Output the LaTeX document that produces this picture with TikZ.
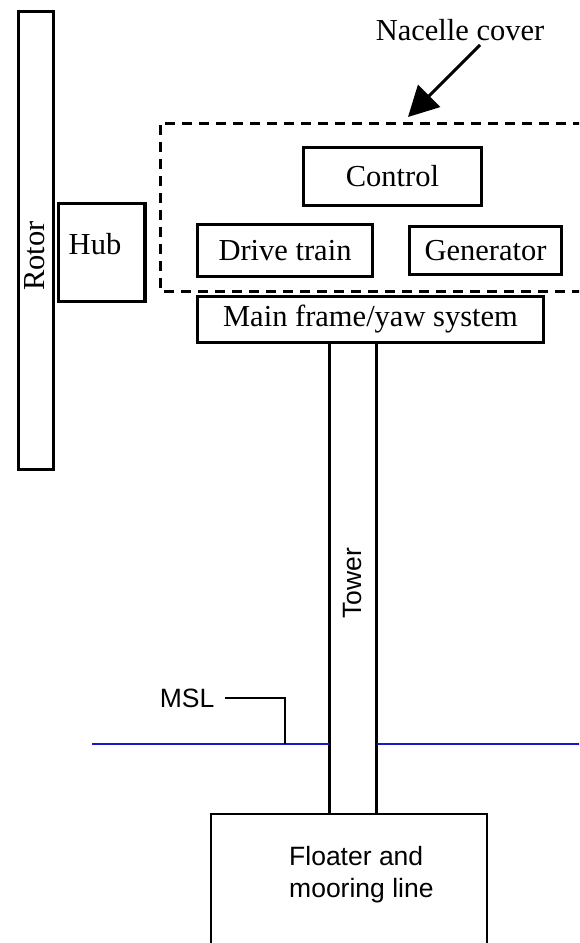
\documentclass[tikz,border=0pt]{standalone}
\usepackage{fontspec}
\setmainfont{Liberation Serif}
\newfontfamily\arialf{Liberation Sans}
\usetikzlibrary{arrows.meta}
\definecolor{seablue}{RGB}{25,25,200}
\begin{document}
\begin{tikzpicture}[x=1pt,y=-1pt,
  serif/.style={font=\fontsize{30.5}{36}\selectfont},
  sans/.style={font=\arialf\fontsize{26.5}{32.5}\selectfont},
  box/.style={draw, line width=3.2pt, inner sep=0pt, serif},
  txt/.style={inner sep=0pt},
  cover/.style={line width=3pt, dash pattern=on 10pt off 7pt},
  thinline/.style={line width=2.7pt},
  sea/.style={draw=seablue, line width=2.5pt},
  lead/.style={line width=2.3pt}]
\useasboundingbox (0,0) rectangle (579,943);
\clip (0,0) rectangle (579,943);
% rotor and hub
\node[box, minimum width=35pt, minimum height=458pt] (rotor) at (36,240.5) {};
\node[txt, serif, rotate=90] (rotortext) at (35,256) {Rotor};
\node[box, minimum width=86.5pt, minimum height=98pt] (hub) at (101.75,252.5) {};
\node[txt, serif] (hubtext) at (95,244) {Hub};
% nacelle cover
\draw[cover] (600,123) -- (160,123) -- (160,291) -- (600,291);
\node[txt, serif] (nacelletext) at (460,30) {Nacelle cover};
\coordinate (arrstart) at (480,45);
\coordinate (arrtip) at (408,117);
\draw[line width=3pt, -{Triangle[length=30pt,width=31pt]}] (arrstart) -- (arrtip);
% nacelle components
\node[box, minimum width=178pt, minimum height=58pt] (control) at (392.5,176.5) {Control};
\node[box, minimum width=175pt, minimum height=52pt] (drive) at (285,250.5) {Drive train};
\node[box, minimum width=152pt, minimum height=48pt] (gen) at (485.5,250.5) {Generator};
\node[box, minimum width=346pt, minimum height=46pt] (mainframe) at (370.5,319.5) {Main frame/yaw system};
% tower
\node[inner sep=0pt, minimum width=47pt, minimum height=470pt] (tower) at (353,579) {};
\draw[thinline] (tower.north west) -- (tower.south west);
\draw[thinline] (tower.north east) -- (tower.south east);
\node[txt, sans, rotate=90] (towertext) at (353,583) {Tower};
% floater
\node[draw, thinline, inner sep=0pt, minimum width=276pt, minimum height=200pt] (floater) at (349,914) {};
\node[txt, sans, align=left, anchor=west] (floatertext) at (289,874.5) {Floater and\\mooring line};
% sea level
\coordinate (mslL) at (92,744);
\coordinate (mslR) at (590,744);
\draw[sea] (mslL) -- (mslL -| tower.west);
\draw[sea] (mslR -| tower.east) -- (mslR);
\node[sans, inner xsep=11pt, inner ysep=0pt] (msl) at (187,698) {MSL};
\coordinate (mslknee) at (285,698);
\draw[lead] (msl.east) -- (mslknee) -- (mslknee |- mslL);
\end{tikzpicture}
\end{document}
